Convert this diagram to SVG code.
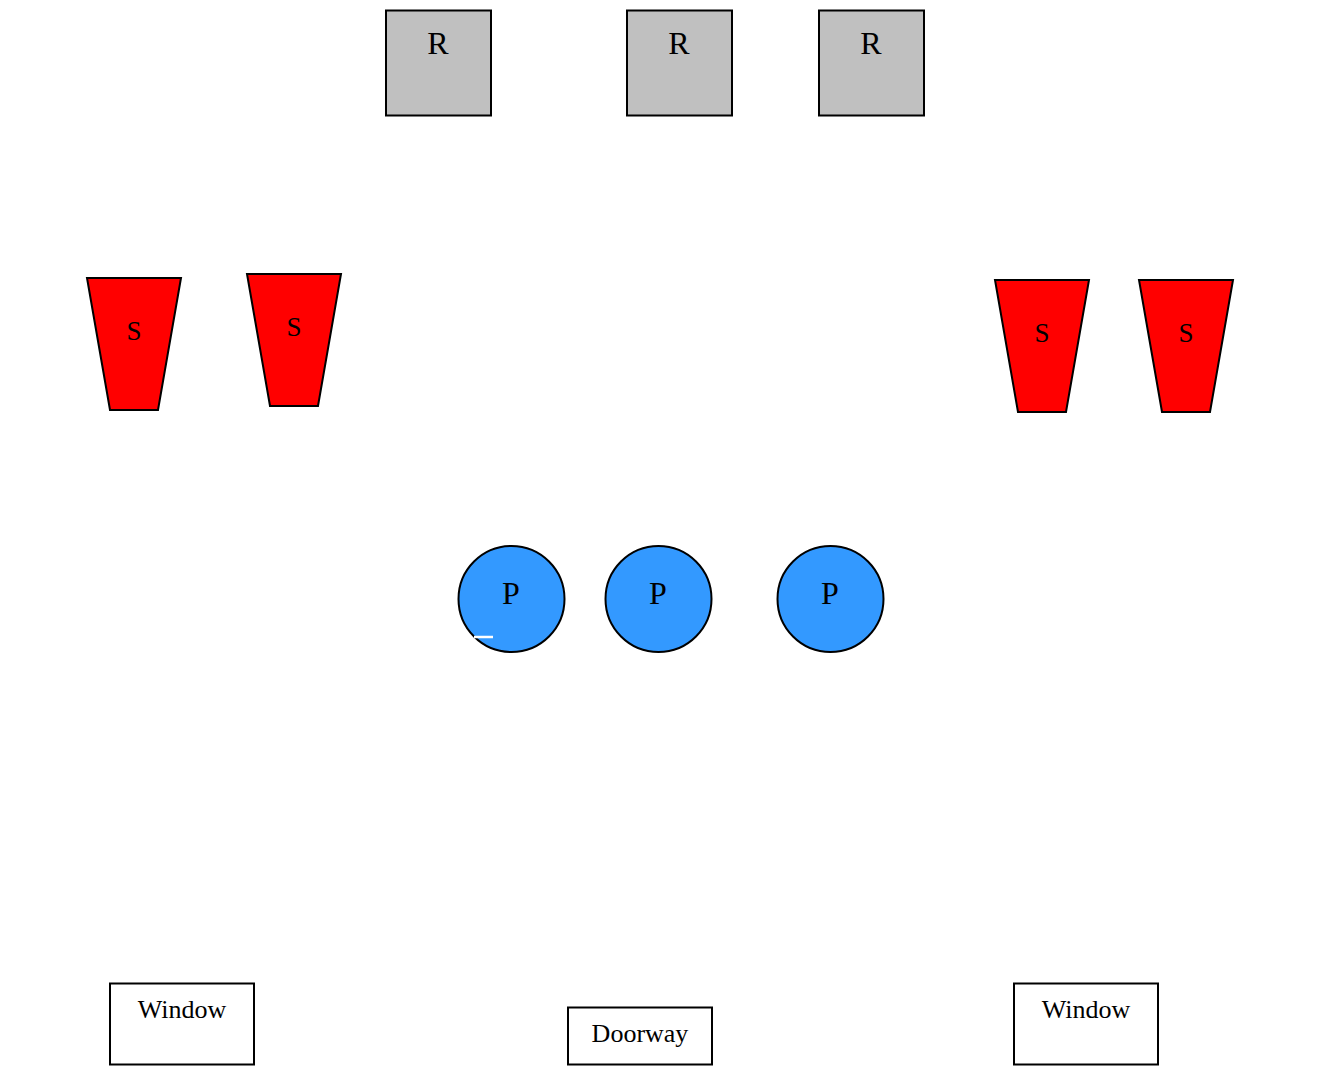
<svg xmlns="http://www.w3.org/2000/svg" width="1341" height="1077" viewBox="0 0 1341 1077">
<style>
.r{fill:#c0c0c0;stroke:#000;stroke-width:2}
.s{fill:#ff0000;stroke:#000;stroke-width:2}
.p{fill:#3399ff;stroke:#000;stroke-width:2}
.b{fill:#fff;stroke:#000;stroke-width:2}
text{font-family:"Liberation Serif","Times New Roman",serif;fill:#000;text-anchor:middle}
.big{font-size:32px}
.mid{font-size:27px}
.lab{font-size:26px}
</style>
<rect width="1341" height="1077" fill="#fff"/>
<g id="r1"><rect class="r" x="386" y="10.5" width="105" height="105"/><text class="big" x="438" y="54">R</text></g>
<g id="r2"><rect class="r" x="627" y="10.5" width="105" height="105"/><text class="big" x="679" y="54">R</text></g>
<g id="r3"><rect class="r" x="819" y="10.5" width="105" height="105"/><text class="big" x="871" y="54">R</text></g>
<g id="s1"><polygon class="s" points="87,278 181,278 158,410 110,410"/><text class="mid" x="134" y="340">S</text></g>
<g id="s2"><polygon class="s" points="247,274 341,274 318,406 270,406"/><text class="mid" x="294" y="336">S</text></g>
<g id="s3"><polygon class="s" points="995,280 1089,280 1066,412 1018,412"/><text class="mid" x="1042" y="342">S</text></g>
<g id="s4"><polygon class="s" points="1139,280 1233,280 1210,412 1162,412"/><text class="mid" x="1186" y="342">S</text></g>
<g id="p1"><circle class="p" cx="511.5" cy="599" r="53"/><text class="big" x="511" y="604">P</text><line x1="474" y1="637" x2="493" y2="637" stroke="#fff" stroke-width="2.5"/></g>
<g id="p2"><circle class="p" cx="658.5" cy="599" r="53"/><text class="big" x="658" y="604">P</text></g>
<g id="p3"><circle class="p" cx="830.5" cy="599" r="53"/><text class="big" x="830" y="604">P</text></g>
<g id="w1"><rect class="b" x="110" y="983.5" width="144" height="81"/><text class="lab" x="182" y="1018">Window</text></g>
<g id="d1"><rect class="b" x="568" y="1007.5" width="144" height="57"/><text class="lab" x="640" y="1042">Doorway</text></g>
<g id="w2"><rect class="b" x="1014" y="983.5" width="144" height="81"/><text class="lab" x="1086" y="1018">Window</text></g>
<g id="connectors"></g>
</svg>
